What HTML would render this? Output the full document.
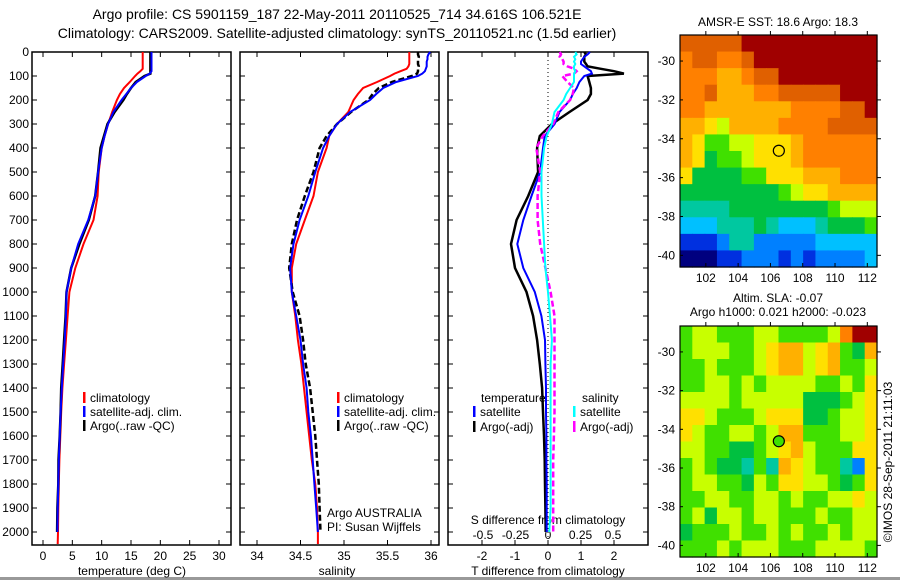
<!DOCTYPE html>
<html><head><meta charset="utf-8"><style>
body{margin:0;background:#fff;width:900px;height:580px;overflow:hidden}
svg text{font-family:"Liberation Sans",sans-serif;fill:#000}
</style></head><body>
<svg id="fig" width="900" height="580" xmlns="http://www.w3.org/2000/svg">
<rect x="0" y="0" width="900" height="580" fill="#fff"/>
<line x1="0" y1="578.5" x2="900" y2="578.5" stroke="#999" stroke-width="3"/>
<text x="337" y="19" font-size="14" text-anchor="middle">Argo profile: CS 5901159_187 22-May-2011 20110525_714 34.616S 106.521E</text>
<text x="337" y="38" font-size="14" text-anchor="middle">Climatology: CARS2009. Satellite-adjusted climatology: synTS_20110521.nc (1.5d earlier)</text>
<g id="plots"></g>
</svg>
<script>
// ---- data ----
const depths=[0,10,20,30,40,50,60,70,80,90,100,125,150,175,200,250,300,350,400,500,600,700,800,900,1000,1100,1200,1300,1400,1500,1600,1700,1800,1900,2000,2050];
const tClim=[17,17,17,17,17,17,17,17,16.6,16.1,15.7,14.8,13.8,13.1,12.6,11.8,11.1,10.5,10.0,9.5,9.3,8.6,6.9,5.5,4.5,4.2,3.9,3.6,3.3,3.1,2.95,2.8,2.7,2.6,2.55,2.5];
const tSat=[18.5,18.5,18.5,18.5,18.5,18.5,18.5,18.5,18.5,18.2,17.5,16.0,15.0,14.2,13.4,12.0,11.1,10.5,10.0,9.4,8.9,7.7,6.0,4.8,4.0,3.9,3.7,3.45,3.2,3.0,2.85,2.7,2.6,2.5,2.45,null];
const tArgo=[18.3,18.3,18.3,18.3,18.3,18.3,18.3,18.3,18.3,18.3,17.3,15.8,15.0,14.3,13.7,12.2,11.0,10.4,9.8,9.4,8.9,7.8,6.2,4.8,4.0,3.85,3.6,3.35,3.1,3.0,2.85,2.65,2.6,2.45,2.4,null];
const sClim=[35.75,35.75,35.75,35.75,35.75,35.75,35.74,35.72,35.65,35.58,35.53,35.38,35.22,35.16,35.11,35.05,34.92,34.83,34.8,34.7,34.65,34.55,34.45,34.4,34.4,34.44,34.47,34.51,34.54,34.57,34.6,34.63,34.67,34.69,34.7,34.7];
const sSat=[35.99,35.97,35.96,35.96,35.95,35.95,35.95,35.94,35.93,35.9,35.85,35.6,35.45,35.37,35.3,35.07,34.92,34.83,34.76,34.67,34.59,34.49,34.42,34.38,34.4,34.45,34.5,34.53,34.57,34.59,34.62,34.64,34.66,34.68,34.7,null];
const sArgo=[35.85,35.85,35.86,35.85,35.85,35.85,35.86,35.85,35.85,35.84,35.78,35.55,35.4,35.33,35.28,35.08,34.92,34.8,34.72,34.65,34.55,34.46,34.4,34.37,34.41,34.49,34.53,34.56,34.61,34.64,34.67,34.69,34.71,34.72,34.73,null];
const dTSat=[1.27,1.2,1.1,1.05,1.0,1.0,1.1,1.2,1.3,1.33,1.1,0.95,0.87,0.75,0.67,0.35,0.2,-0.1,-0.15,-0.24,-0.5,-0.75,-0.93,-0.75,-0.4,-0.2,-0.09,-0.08,-0.06,-0.06,-0.05,-0.05,-0.04,-0.04,-0.04,null];
const dTArgo=[1.1,1.15,1.1,1.1,1.1,1.15,1.2,1.6,2.0,2.3,1.2,1.25,1.3,1.3,1.2,0.65,0.12,-0.25,-0.33,-0.3,-0.6,-0.95,-1.12,-1.0,-0.65,-0.45,-0.33,-0.25,-0.18,-0.15,-0.12,-0.1,-0.09,-0.08,-0.07,null];
const dSSat=[0.21,0.22,0.2,0.21,0.2,0.21,0.2,0.2,0.21,0.2,0.2,0.2,0.17,0.14,0.12,0.05,0.03,-0.01,-0.03,-0.05,-0.05,-0.04,-0.03,-0.02,0.0,0.015,0.03,0.02,0.02,0.02,0.02,0.02,0.02,0.02,0.01,null];
const dSArgo=[0.09,0.1,0.09,0.11,0.12,0.12,0.15,0.2,0.22,0.2,0.11,0.15,0.2,0.19,0.17,0.08,0.04,-0.04,-0.09,-0.06,-0.08,-0.08,-0.06,-0.02,0.02,0.05,0.05,0.05,0.05,0.05,0.045,0.04,0.04,0.04,0.04,null];
const depthTicks=[0,100,200,300,400,500,600,700,800,900,1000,1100,1200,1300,1400,1500,1600,1700,1800,1900,2000];
const tTicks=[0,5,10,15,20,25,30];
const sTicks=[34,34.5,35,35.5,36];
const sTickLabels=["34","34.5","35","35.5","36"];
const dTTicks=[-2,-1,0,1,2];
const dSTicks=[-0.5,-0.25,0,0.25,0.5];
const dSTickLabels=["-0.5","-0.25","0","0.25","0.5"];
const lonTicks=[102,104,106,108,110,112];
const latTicks=[-30,-32,-34,-36,-38,-40];
const argoLon=106.521, argoLat=-34.616;
const sstGrid=[
"BBBBBCCCCCCCCCCC",
"ABBAABCCCCCCCCCC",
"AAA99ABBCCCCCCCC",
"AAB999AABBBBBCCC",
"AA9999999AAAABBC",
"99879999AAAABBBB",
"9866778889AAAAAA",
"9856678889AAAAAA",
"8555566888999AAA",
"5555555567889999",
"4444555555556777",
"3334445433345556",
"1112442222233333",
"0001122212122223"];
const slaGrid=[
"6776667766667ACC",
"6777667899789659",
"6676667899789667",
"6677676777766768",
"7777677777555678",
"8876667888556778",
"8766776799666778",
"7766556789766688",
"6765546498766428",
"6776657688776568",
"6677667767667787",
"6757767766676677",
"5666766767667677",
"6667677766677776"];
const palette={"0":"#00007f","1":"#0030e0","2":"#0080ff","3":"#00c0ff","4":"#00c8a0","5":"#00c040","6":"#40e000","7":"#c8ff00","8":"#ffe000","9":"#ffb000","A":"#ff8000","B":"#e06000","C":"#a00000"};

// ---- helpers ----
const NS="http://www.w3.org/2000/svg";
const root=document.getElementById('plots');
function mk(tag,attrs,parent,txt){const e=document.createElementNS(NS,tag);for(const k in attrs)e.setAttribute(k,attrs[k]);if(txt!==undefined)e.textContent=txt;(parent||root).appendChild(e);return e;}
const Y0=52,Y1=545;
const yD=d=>Y0+d*0.24;
function lin(d0,d1,p0,p1){return v=>p0+(v-d0)*(p1-p0)/(d1-d0);}

function frame(x0,x1,name){
  const r=mk('rect',{x:x0,y:Y0,width:x1-x0,height:Y1-Y0,fill:'none',stroke:'#000','stroke-width':1.5});
  
  
  depthTicks.forEach(d=>{
    mk('line',{x1:x0,y1:yD(d),x2:x0+5,y2:yD(d),stroke:'#000'});
    mk('line',{x1:x1-5,y1:yD(d),x2:x1,y2:yD(d),stroke:'#000'});
  });
}
function profile(xs,xf,color,name,dash,w){
  let pts=[];
  depths.forEach((d,i)=>{if(xs[i]!==null)pts.push(xf(xs[i]).toFixed(1)+','+yD(d).toFixed(1));});
  const p=mk('polyline',{points:pts.join(' '),fill:'none',stroke:color,'stroke-width':w||2});
  if(dash)p.setAttribute('stroke-dasharray',dash);
  
  
}
function xTicks(x0,x1,ticks,labels,xf,ty,name,top){
  const g=mk('g',{});
  
  
  ticks.forEach((t,i)=>{
    const x=xf(t);
    if(top!==false){mk('line',{x1:x,y1:Y0,x2:x,y2:Y0+5,stroke:'#000'},g);}
    mk('line',{x1:x,y1:Y1,x2:x,y2:Y1-5,stroke:'#000'},g);
    mk('text',{x:x,y:ty,'font-size':12,'text-anchor':'middle'},g,labels?labels[i]:String(t));
  });
}
function legendEntry(x,y,color,label,name){
  const g=mk('g',{});
  
  
  mk('rect',{x:x,y:y-10,width:2.5,height:11,fill:color},g);
  mk('text',{x:x+7,y:y,'font-size':12},g,label);
}

// ---- depth labels ----
depthTicks.forEach(d=>{
  const t=mk('text',{x:29,y:yD(d)+4,'font-size':12,'text-anchor':'end'},root,String(d));
  
  
});

// ---- panel 1 temperature ----
const xT=lin(0,30,43,219);
frame(32,231,'temperature-panel');
xTicks(32,231,tTicks,null,xT,560,'temperature-x-axis');
profile(tClim,xT,'#ff0000','temp-climatology-line');
profile(tArgo,xT,'#000000','temp-argo-line',null,2.5);
profile(tSat,xT,'#0000ff','temp-satellite-line');
mk('text',{x:132,y:575,'font-size':12,'text-anchor':'middle',},root,'temperature (deg C)');
legendEntry(83,402,'#ff0000','climatology','legend-climatology-t');
legendEntry(83,416,'#0000ff','satellite-adj. clim.','legend-satellite-t');
legendEntry(83,430,'#000000','Argo(..raw -QC)','legend-argo-t');

// ---- panel 2 salinity ----
const xS=lin(34,36,257,431);
frame(240,439,'salinity-panel');
xTicks(240,439,sTicks,sTickLabels,xS,560,'salinity-x-axis');
profile(sClim,xS,'#ff0000','sal-climatology-line');
profile(sArgo,xS,'#000000','sal-argo-line','6,3',2.5);
profile(sSat,xS,'#0000ff','sal-satellite-line');
mk('text',{x:337,y:575,'font-size':12,'text-anchor':'middle',},root,'salinity');
legendEntry(337,402,'#ff0000','climatology','legend-climatology-s');
legendEntry(337,416,'#0000ff','satellite-adj. clim.','legend-satellite-s');
legendEntry(337,430,'#000000','Argo(..raw -QC)','legend-argo-s');
mk('text',{x:327,y:517,'font-size':12,},root,'Argo AUSTRALIA');
mk('text',{x:327,y:531,'font-size':12,},root,'PI: Susan Wijffels');

// ---- panel 3 differences ----
const xdT=lin(0,1,548,581);
const xdS=lin(0,1,548,678);
frame(448,648,'difference-panel');
mk('line',{x1:548,y1:Y0,x2:548,y2:Y1,stroke:'#000','stroke-dasharray':'1,3',});
xTicks(448,648,dTTicks,null,xdT,560,'t-difference-x-axis');
const gS=mk('g',{});
dSTicks.forEach((t,i)=>mk('text',{x:xdS(t),y:539,'font-size':12,'text-anchor':'middle'},gS,dSTickLabels[i]));
mk('text',{x:548,y:524,'font-size':12,'text-anchor':'middle',},root,'S difference from climatology');
mk('text',{x:548,y:575,'font-size':12,'text-anchor':'middle',},root,'T difference from climatology');
profile(dTArgo,xdT,'#000000','t-diff-argo-line',null,2.5);
profile(dTSat,xdT,'#0000ff','t-diff-satellite-line');
profile(dSArgo,xdS,'#ff00ff','s-diff-argo-line','6,3',2.5);
profile(dSSat,xdS,'#00ffff','s-diff-satellite-line');
mk('text',{x:481,y:402,'font-size':12,},root,'temperature');
legendEntry(473,416,'#0000ff','satellite','legend-t-satellite');
legendEntry(473,431,'#000000','Argo(-adj)','legend-t-argo');
mk('text',{x:582,y:402,'font-size':12,},root,'salinity');
legendEntry(573,416,'#00ffff','satellite','legend-s-satellite');
legendEntry(573,431,'#ff00ff','Argo(-adj)','legend-s-argo');

// ---- maps ----
function map(grid,top,bottom,name,circleFill){
  const X0=680,X1=877;
  const xL=lin(100.4,112.6,X0,X1);
  const yL=lin(-28.66,-40.6,top,bottom);
  const g=mk('g',{});
  
  
  const rows=grid.length,cols=grid[0].length;
  const cw=(X1-X0)/cols,ch=(bottom-top)/rows;
  grid.forEach((row,r)=>{for(let c=0;c<cols;c++){
    const cell=mk('rect',{x:(X0+c*cw).toFixed(2),y:(top+r*ch).toFixed(2),width:(cw+0.6).toFixed(2),height:(ch+0.6).toFixed(2),fill:palette[row[c]]},g);
    
    
  }});
  mk('rect',{x:X0,y:top,width:X1-X0,height:bottom-top,fill:'none',stroke:'#000','stroke-width':1.2},g);
  lonTicks.forEach(l=>{const x=xL(l);
    mk('line',{x1:x,y1:top-4,x2:x,y2:top,stroke:'#000'},g);
    mk('line',{x1:x,y1:bottom,x2:x,y2:bottom-4,stroke:'#000'},g);
    mk('text',{x:x,y:bottom+15,'font-size':12,'text-anchor':'middle'},g,String(l));});
  latTicks.forEach(l=>{const y=yL(l);
    mk('line',{x1:X1,y1:y,x2:X1+4,y2:y,stroke:'#000'},g);
    mk('line',{x1:X0,y1:y,x2:X0+3,y2:y,stroke:'#000'},g);
    mk('text',{x:675,y:y+4,'font-size':12,'text-anchor':'end'},g,String(l));});
  const c=mk('circle',{cx:xL(argoLon),cy:yL(argoLat),r:5.5,fill:circleFill,stroke:'#000','stroke-width':1.2},g);
  
  
}
map(sstGrid,35,267,'sst-map','none');
map(slaGrid,326,557,'sla-map','#40e000');
mk('text',{x:778,y:26,'font-size':12,'text-anchor':'middle',},root,'AMSR-E SST: 18.6  Argo: 18.3');
mk('text',{x:778,y:302,'font-size':12,'text-anchor':'middle',},root,'Altim. SLA: -0.07');
mk('text',{x:778,y:316,'font-size':12,'text-anchor':'middle',},root,'Argo h1000: 0.021 h2000: -0.023');
mk('text',{x:0,y:0,'font-size':12,'text-anchor':'middle',transform:'translate(892,462) rotate(-90)',},root,'©IMOS 28-Sep-2011 21:11:03');
</script>
</body></html>
